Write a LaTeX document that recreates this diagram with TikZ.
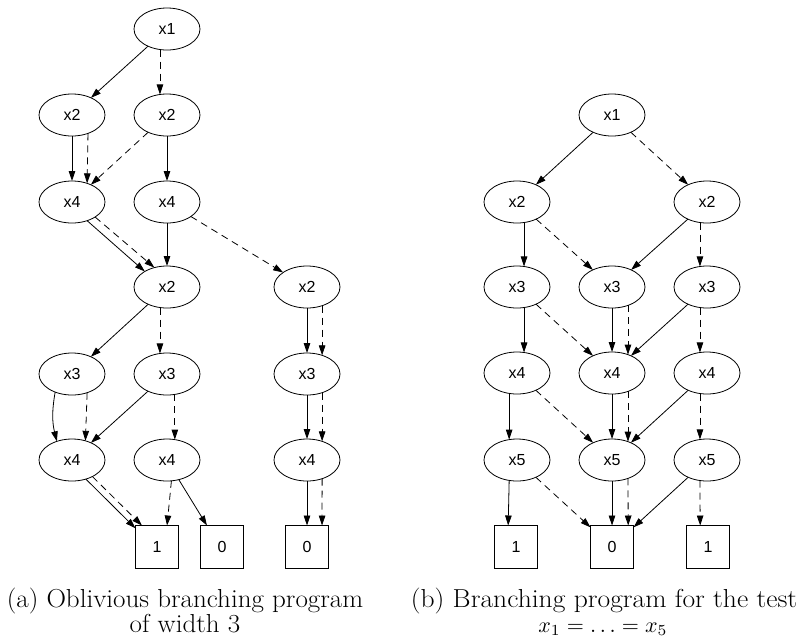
\documentclass[tikz,border=0pt]{standalone}
\usepackage{fontspec}
\newfontfamily\nodefont{Liberation Sans}
\usetikzlibrary{arrows.meta,shapes.geometric}
\tikzset{
  var/.style={ellipse,draw,line width=0.8pt,minimum width=66pt,minimum height=42pt,inner sep=0pt,outer sep=0pt,font=\nodefont\fontsize{16}{18}\selectfont},
  leaf/.style={rectangle,draw,line width=0.8pt,minimum width=43pt,minimum height=43pt,inner sep=0pt,outer sep=0pt,font=\nodefont\fontsize{16}{18}\selectfont},
  one/.style={line width=0.8pt,-{Triangle[length=10pt,width=6.5pt]}},
  zero/.style={line width=0.8pt,dash pattern=on 7pt off 5pt,-{Triangle[length=10pt,width=6.5pt]}},
  captext/.style={anchor=base,font=\fontsize{26}{30}\selectfont,inner sep=0pt}
}
\begin{document}
\begin{tikzpicture}[x=1pt,y=-1pt]
\useasboundingbox (0,0) rectangle (797,641);
% left diagram
\node[var] (A1) at (167,29) {x1};
\node[var] (A2) at (72,115) {x2};
\node[var] (A3) at (167,115) {x2};
\node[var] (A4) at (72,202) {x4};
\node[var] (A5) at (167,202) {x4};
\node[var] (A6) at (167,287) {x2};
\node[var] (A7) at (307,287) {x2};
\node[var] (A8) at (72,374) {x3};
\node[var] (A9) at (167,374) {x3};
\node[var] (A10) at (307,374) {x3};
\node[var] (A11) at (72,460) {x4};
\node[var] (A12) at (167,460) {x4};
\node[var] (A13) at (307,460) {x4};
\node[leaf] (B1) at (157,547) {1};
\node[leaf] (B2) at (222,547) {0};
\node[leaf] (B3) at (307,547) {0};

\draw[one] (A1) -- (A2);
\draw[zero] (A1.-109) -- (A3.109);
\draw[one] (A2) -- (A4);
\draw[zero] (A2.-49) -- (A4.51);
\draw[zero] (A3) -- (A4);
\draw[one] (A3) -- (A5);
\draw[one] (A4.-51) -- (A6.145);
\draw[zero] (A4.-33) -- (A6.123);
\draw[one] (A5) -- (A6);
\draw[zero] (A5) -- (A7);
\draw[one] (A6) -- (A8);
\draw[zero] (A6.-109) -- (A9.109);
\draw[one] (A7) -- (A10);
\draw[zero] (A7.-51) -- (A10.51);
\draw[one] (A8.-133) to[bend right=12] (A11.129);
\draw[zero] (A8.-51) -- (A11.55);
\draw[one] (A9) -- (A11);
\draw[zero] (A9.-69) -- (A12.69);
\draw[one] (A10) -- (A13);
\draw[zero] (A10.-51) -- (A13.51);
\draw[one] (A11.-54) -- (B1.139);
\draw[zero] (A11.-39) -- (B1.125);
\draw[zero] (A12.-78) -- (B1.65);
\draw[one] (A12.-59) -- (B2.125);
\draw[one] (A13) -- (B3);
\draw[zero] (A13.-51) -- (B3.55);

% right diagram
\node[var] (C1) at (612,115) {x1};
\node[var] (C2) at (517,202) {x2};
\node[var] (C3) at (707,202) {x2};
\node[var] (C4) at (517,287) {x3};
\node[var] (C5) at (612,287) {x3};
\node[var] (C6) at (707,287) {x3};
\node[var] (C7) at (517,373) {x4};
\node[var] (C8) at (612,373) {x4};
\node[var] (C9) at (707,373) {x4};
\node[var] (C10) at (517,460) {x5};
\node[var] (C11) at (612,460) {x5};
\node[var] (C12) at (707,460) {x5};
\node[leaf] (D1) at (516,547) {1};
\node[leaf] (D2) at (612,547) {0};
\node[leaf] (D3) at (708,547) {1};

\draw[one] (C1) -- (C2);
\draw[zero] (C1) -- (C3);
\draw[one] (C2.-71) -- (C4.71);
\draw[zero] (C2) -- (C5);
\draw[one] (C3) -- (C5);
\draw[zero] (C3.-109) -- (C6.109);
\draw[one] (C4.-71) -- (C7.71);
\draw[zero] (C4) -- (C8);
\draw[one] (C5) -- (C8);
\draw[zero] (C5.-49) -- (C8.49);
\draw[one] (C6) -- (C8);
\draw[zero] (C6.-109) -- (C9.109);
\draw[one] (C7.-111) -- (C10.111);
\draw[zero] (C7) -- (C11);
\draw[one] (C8) -- (C11);
\draw[zero] (C8.-49) -- (C11.49);
\draw[one] (C9) -- (C11);
\draw[zero] (C9.-109) -- (C12.109);
\draw[one] (C10.-111) -- (D1.110);
\draw[zero] (C10) -- (D2);
\draw[one] (C11) -- (D2);
\draw[zero] (C11.-49) -- (D2.53);
\draw[one] (C12) -- (D2);
\draw[zero] (C12.-109) -- (D3.110);

% captions
\node[captext] (capa1) at (185,607) {\scalebox{1.04}[1]{(a) Oblivious branching program}};
\node[captext] (capa2) at (185,632) {\scalebox{1.04}[1]{of width 3}};
\node[captext] (capb1) at (604,607) {\scalebox{1.06}[1]{(b) Branching program for the test}};
\node[captext] (capb2) at (603,632) {\scalebox{2.2}{\fontsize{10}{12}\selectfont$x_1=\ldots=x_5$}};
\end{tikzpicture}
\end{document}
